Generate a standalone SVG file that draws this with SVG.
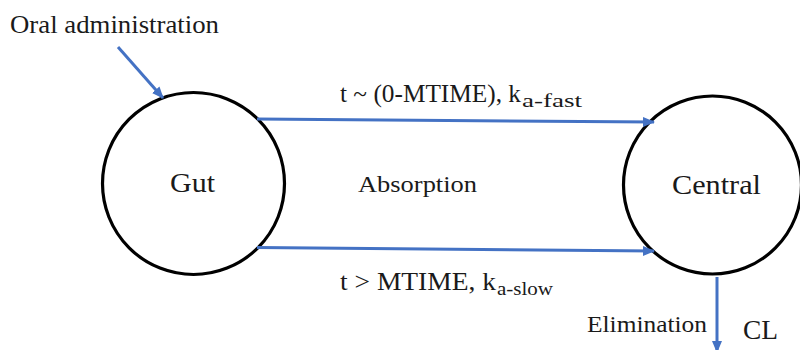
<svg xmlns="http://www.w3.org/2000/svg" width="800" height="350" viewBox="0 0 800 350">
<style>
  .node circle { fill: #fff; stroke: #000; stroke-width: 3.2; }
  .t { font-family: "Liberation Serif", "Times New Roman", serif; fill: #1a1a1a; }
  .conn line { stroke: #4472C4; stroke-width: 3; }
</style>
<defs>
  <marker id="ah" markerUnits="userSpaceOnUse" markerWidth="12" markerHeight="12" viewBox="0 0 12 12" refX="11" refY="6" orient="auto">
    <path d="M0,1 L12,6 L0,11 Z" fill="#4472C4"/>
  </marker>
</defs>
<rect width="800" height="350" fill="#fff"/>
<g id="gut" class="node">
  <circle cx="193.5" cy="183.5" r="91"/>
  <text class="t" x="170" y="192" font-size="28" textLength="45" lengthAdjust="spacingAndGlyphs">Gut</text>
</g>
<g id="central" class="node">
  <circle cx="712.5" cy="185" r="89"/>
  <text class="t" x="672" y="194" font-size="28" textLength="89" lengthAdjust="spacingAndGlyphs">Central</text>
</g>
<g id="connectors" class="conn">
  <line x1="118" y1="47" x2="163" y2="98" marker-end="url(#ah)"/>
  <line x1="257" y1="119" x2="654" y2="122" marker-end="url(#ah)"/>
  <line x1="257" y1="247.5" x2="654" y2="251" marker-end="url(#ah)"/>
  <line x1="717" y1="277" x2="717" y2="352" marker-end="url(#ah)"/>
</g>
<g id="labels">
  <text class="t" x="10" y="33" font-size="26" textLength="209" lengthAdjust="spacingAndGlyphs">Oral administration</text>
  <text class="t" x="340" y="102" font-size="25" textLength="181" lengthAdjust="spacingAndGlyphs">t ~ (0-MTIME), k</text>
  <text class="t" x="522" y="107" font-size="18" textLength="60" lengthAdjust="spacingAndGlyphs">a-fast</text>
  <text class="t" x="358" y="192" font-size="23" textLength="119" lengthAdjust="spacingAndGlyphs">Absorption</text>
  <text class="t" x="340" y="290" font-size="25" textLength="156" lengthAdjust="spacingAndGlyphs">t &gt; MTIME, k</text>
  <text class="t" x="497" y="295" font-size="18" textLength="56" lengthAdjust="spacingAndGlyphs">a-slow</text>
  <text class="t" x="587" y="332" font-size="23" textLength="120" lengthAdjust="spacingAndGlyphs">Elimination</text>
  <text class="t" x="743" y="339" font-size="28" textLength="35" lengthAdjust="spacingAndGlyphs">CL</text>
</g>
</svg>
